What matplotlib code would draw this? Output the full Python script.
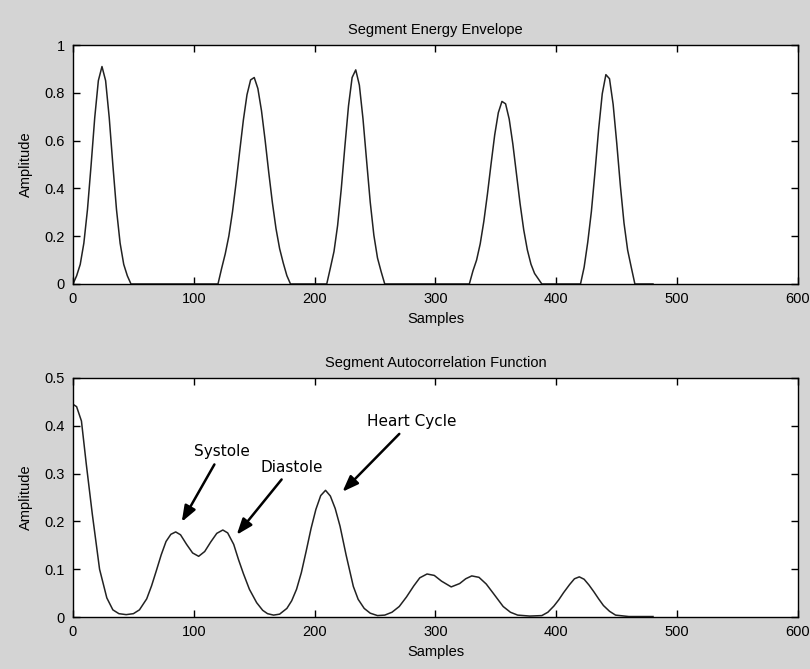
import matplotlib
matplotlib.use("Agg")
import matplotlib.pyplot as plt

# energy envelope of the heart-sound segment (sample index, amplitude)
env_x = [0, 3, 6, 9, 12, 15, 18, 21, 24, 27, 30, 33, 36, 39, 42, 45, 48,
         120, 123, 126, 129, 132, 135, 138, 141, 144, 147, 150, 153, 156, 159,
         162, 165, 168, 171, 174, 177, 180,
         210, 213, 216, 219, 222, 225, 228, 231, 234, 237, 240, 243, 246, 249,
         252, 255, 258,
         328, 331, 334, 337, 340, 343, 346, 349, 352, 355, 358, 361, 364, 367,
         370, 373, 376, 379, 382, 385, 388,
         420, 423, 426, 429, 432, 435, 438, 441, 444, 447, 450, 453, 456, 459,
         462, 465, 480]
env_y = [0.0, 0.034, 0.082, 0.171, 0.312, 0.498, 0.696, 0.851, 0.91, 0.851,
         0.696, 0.498, 0.312, 0.171, 0.082, 0.034, 0.0,
         0.0, 0.065, 0.126, 0.201, 0.302, 0.424, 0.557, 0.686, 0.792, 0.854,
         0.864, 0.818, 0.725, 0.602, 0.467, 0.341, 0.232, 0.148, 0.088, 0.035,
         0.0,
         0.0, 0.067, 0.136, 0.245, 0.397, 0.575, 0.745, 0.864, 0.896, 0.832,
         0.691, 0.515, 0.342, 0.204, 0.109, 0.052, 0.0,
         0.0, 0.055, 0.100, 0.168, 0.262, 0.377, 0.503, 0.624, 0.717, 0.764,
         0.754, 0.690, 0.586, 0.461, 0.336, 0.227, 0.143, 0.083, 0.044, 0.022,
         0.0,
         0.0, 0.07, 0.175, 0.303, 0.469, 0.647, 0.796, 0.876, 0.859, 0.752,
         0.589, 0.411, 0.255, 0.142, 0.070, 0.0, 0.0]

# autocorrelation of the envelope
acf_x = [0, 3, 7, 11, 16, 22, 28, 33, 38, 44, 50, 55, 61, 65, 69, 73, 77, 81,
         85, 89, 94, 99, 104, 109, 114, 119, 124, 128, 133, 137, 141, 146, 152,
         157, 161, 166, 171, 177, 181, 185, 189, 193, 197, 201, 205, 209, 213,
         217, 221, 226, 232, 236, 241, 246, 252, 258, 264, 270, 276, 282, 287,
         293, 299, 305, 313, 320, 325, 330, 336, 342, 348, 356, 362, 368, 378,
         388, 393, 398, 402, 406, 411, 415, 419, 423, 427, 431, 435, 439, 444,
         449, 460, 470, 480]
acf_y = [0.445, 0.44, 0.41, 0.32, 0.215, 0.10, 0.04, 0.015, 0.007, 0.005,
         0.007, 0.015, 0.038, 0.065, 0.097, 0.13, 0.158, 0.173, 0.178, 0.172,
         0.152, 0.134, 0.127, 0.137, 0.157, 0.175, 0.182, 0.176, 0.152, 0.12,
         0.091, 0.058, 0.03, 0.014, 0.007, 0.004, 0.006, 0.018, 0.034, 0.058,
         0.093, 0.138, 0.185, 0.225, 0.254, 0.265, 0.253, 0.227, 0.19, 0.13,
         0.064, 0.037, 0.018, 0.008, 0.003, 0.004, 0.01, 0.022, 0.042, 0.065,
         0.082, 0.09, 0.087, 0.075, 0.063, 0.07, 0.08, 0.086, 0.083, 0.069,
         0.049, 0.022, 0.01, 0.004, 0.002, 0.003, 0.01, 0.023, 0.036, 0.051,
         0.068, 0.08, 0.084, 0.079, 0.067, 0.053, 0.038, 0.024, 0.012, 0.004,
         0.001, 0.001, 0.001]

x_ticks = [0, 100, 200, 300, 400, 500, 600]
env_ticks = [0, 0.2, 0.4, 0.6, 0.8, 1]
env_labels = ["0", "0.2", "0.4", "0.6", "0.8", "1"]
acf_ticks = [0, 0.1, 0.2, 0.3, 0.4, 0.5]
acf_labels = ["0", "0.1", "0.2", "0.3", "0.4", "0.5"]

# (label, arrow tip, text position)
notes = [("Systole", (90, 0.199), (123, 0.33)),
         ("Diastole", (135.5, 0.172), (181, 0.298)),
         ("Heart Cycle", (223, 0.262), (280, 0.393))]

GRAY = "#d4d4d4"
plt.rcParams["font.family"] = ["Liberation Sans", "DejaVu Sans"]

fig = plt.figure(figsize=(8.1, 6.69), dpi=100, facecolor=GRAY)
ax1 = fig.add_axes([0.0901, 0.5755, 0.8951, 0.3572])
ax2 = fig.add_axes([0.0901, 0.0777, 0.8951, 0.3573])


def style(ax, yt, yl, ymax, title):
    ax.set_xlim(0, 600)
    ax.set_ylim(0, ymax)
    ax.set_xticks(x_ticks)
    ax.set_xticklabels([str(t) for t in x_ticks])
    ax.set_yticks(yt)
    ax.set_yticklabels(yl)
    ax.tick_params(direction="in", length=5, width=1, top=True, right=True,
                   labelsize=10.5, pad=6, colors="black")
    for s in ax.spines.values():
        s.set_linewidth(1.0)
    ax.set_title(title, fontsize=10.5, pad=8)
    ax.set_xlabel("Samples", fontsize=10.5, labelpad=4)
    ax.set_ylabel("Amplitude", fontsize=10.5, labelpad=8)


ax1.plot(env_x, env_y, color="#222222", lw=1.1)
style(ax1, env_ticks, env_labels, 1, "Segment Energy Envelope")

ax2.plot(acf_x, acf_y, color="#222222", lw=1.1)
style(ax2, acf_ticks, acf_labels, 0.5, "Segment Autocorrelation Function")

for label, tip, pos in notes:
    ax2.annotate(label, xy=tip, xytext=pos, ha="center", va="bottom",
                 fontsize=11, family="DejaVu Sans",
                 arrowprops=dict(arrowstyle="-|>,head_length=0.8,head_width=0.3",
                                 color="black", lw=1.8,
                                 mutation_scale=12, shrinkA=2, shrinkB=0))

fig.savefig("out.png", dpi=100, facecolor=GRAY)
